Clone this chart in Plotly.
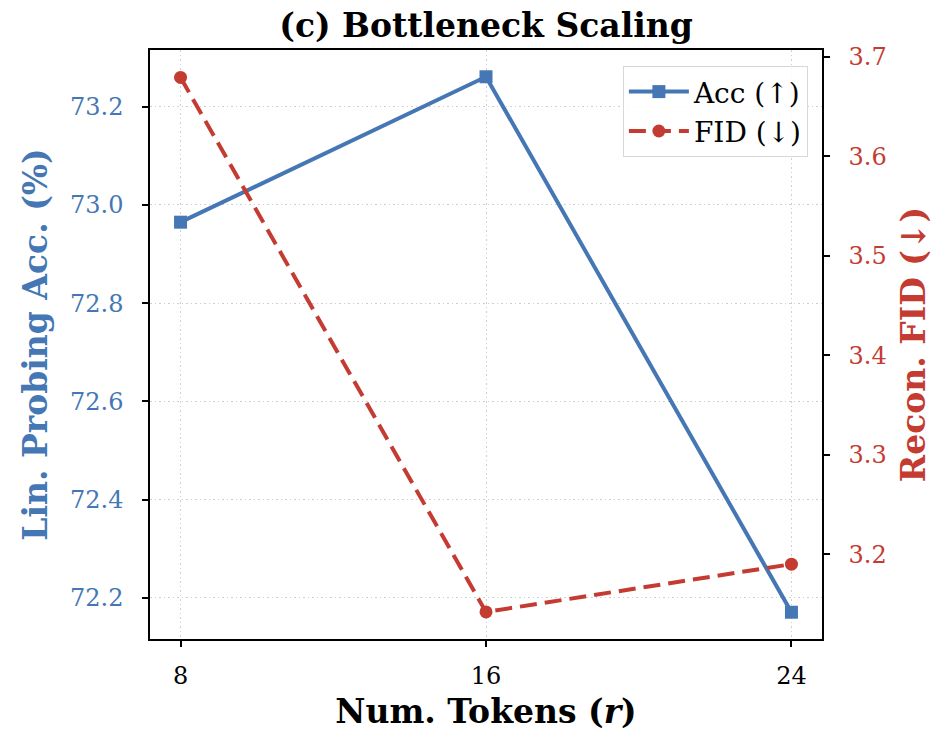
import plotly.graph_objects as go

tokens = [8, 16, 24]
acc = [72.965, 73.261, 72.171]
fid = [3.679, 3.142, 3.190]
x_ticks = [8, 16, 24]
left_ticks = [72.2, 72.4, 72.6, 72.8, 73.0, 73.2]
right_ticks = [3.2, 3.3, 3.4, 3.5, 3.6, 3.7]

BLUE = "#4577B4"
RED = "#C43B32"
FONT = "DejaVu Serif"

fig = go.Figure()
fig.add_trace(go.Scatter(
    x=tokens, y=acc, name="Acc (↑)", mode="lines+markers",
    line=dict(color=BLUE, width=4),
    marker=dict(symbol="square", size=13, color=BLUE),
    yaxis="y",
))
fig.add_trace(go.Scatter(
    x=tokens, y=fid, name="FID (↓)", mode="lines+markers",
    line=dict(color=RED, width=4, dash="17px,8px"),
    marker=dict(symbol="circle", size=13, color=RED),
    yaxis="y2",
))

GRID = dict(showgrid=True, gridcolor="#cfcfcf", griddash="1.5px,3px", gridwidth=1.2)

fig.update_layout(
    width=933, height=731,
    margin=dict(l=150, r=111, t=50, b=92),
    paper_bgcolor="white", plot_bgcolor="white",
    font=dict(family=FONT, size=24, color="black"),
    title=dict(text="<b>(c) Bottleneck Scaling</b>", x=0.521, xanchor="center",
               y=0.965, yanchor="middle", font=dict(family=FONT, size=33, color="black")),
    xaxis=dict(
        range=[7.2, 24.8], tickvals=x_ticks, ticktext=[str(v) for v in x_ticks],
        showline=True, linecolor="black", linewidth=1.5, mirror=True,
        ticks="outside", ticklen=6, tickwidth=1.5, tickcolor="black",
        ticklabelstandoff=8, automargin=False,
        zeroline=False, **GRID,
        tickfont=dict(family=FONT, size=24, color="black"),
        title=dict(text="<b>Num. Tokens (<i>r</i>)</b>", standoff=14,
                   font=dict(family=FONT, size=33, color="black")),
    ),
    yaxis=dict(
        range=[72.1165, 73.3155], tickvals=left_ticks,
        ticktext=[f"{v:.1f}" for v in left_ticks],
        showline=True, linecolor="black", linewidth=1.5,
        ticks="outside", ticklen=6, tickwidth=1.5, tickcolor="black",
        ticklabelstandoff=14, automargin=False,
        zeroline=False, **GRID,
        tickfont=dict(family=FONT, size=24, color=BLUE),
        title=dict(text="<b>Lin. Probing Acc. (%)</b>", standoff=12,
                   font=dict(family=FONT, size=33, color=BLUE)),
    ),
    yaxis2=dict(
        range=[3.1148, 3.7066], tickvals=right_ticks,
        ticktext=[f"{v:.1f}" for v in right_ticks],
        overlaying="y", side="right",
        showline=True, linecolor="black", linewidth=1.5,
        ticks="outside", ticklen=6, tickwidth=1.5, tickcolor="black",
        ticklabelstandoff=14, automargin=False,
        showgrid=False, zeroline=False,
        tickfont=dict(family=FONT, size=24, color=RED),
        title=dict(text="<b>Recon. FID (↓)</b>", standoff=18,
                   font=dict(family=FONT, size=33, color=RED)),
    ),
    legend=dict(
        x=0.979, y=0.973, xanchor="right", yanchor="top",
        bgcolor="rgba(255,255,255,0.85)", bordercolor="#d8d8d8", borderwidth=1,
        font=dict(family=FONT, size=28, color="black"),
        itemwidth=60, tracegroupgap=4,
    ),
    showlegend=True,
)

fig.write_html("out.html")
